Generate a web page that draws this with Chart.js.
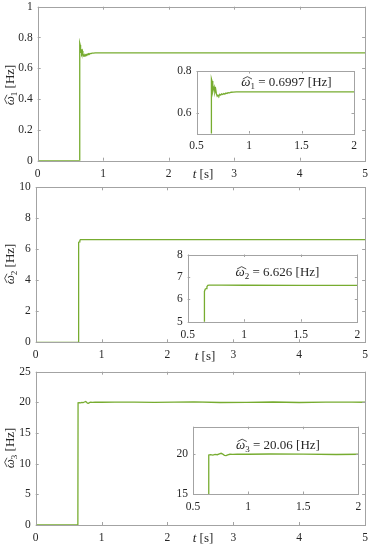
<!DOCTYPE html>
<html><head><meta charset="utf-8">
<script src="https://cdn.jsdelivr.net/npm/chart.js@4/dist/chart.umd.min.js"></script>
<style>
html,body{margin:0;padding:0;background:#fff}
body{width:374px;height:550px;position:relative;overflow:hidden}
canvas{position:absolute}
.pre{position:absolute;left:-500px;top:0;font-family:"Liberation Serif";}
</style></head><body>
<div class="pre">0.5 <i>t ω</i> [Hz]</div>
<canvas id="m1"></canvas><canvas id="i1"></canvas>
<canvas id="m2"></canvas><canvas id="i2"></canvas>
<canvas id="m3"></canvas><canvas id="i3"></canvas>
<script>
// ---- data ----
const t1 = [0, 0.640, 0.642, 0.648, 0.655, 0.662, 0.668, 0.675, 0.683, 0.690, 0.697, 0.705, 0.713, 0.722, 0.731, 0.740, 0.750, 0.760, 0.770, 0.780, 0.790, 0.800, 0.815, 0.830, 0.850, 0.880, 0.950, 1.2, 1.6, 2.0, 2.5, 3.0, 3.5, 4.0, 4.5, 5.0];
const w1 = [0, 0, 0.763, 0.752, 0.700, 0.715, 0.724, 0.697, 0.712, 0.690, 0.679, 0.684, 0.680, 0.688, 0.684, 0.690, 0.687, 0.692, 0.689, 0.694, 0.692, 0.696, 0.695, 0.698, 0.699, 0.700, 0.700, 0.700, 0.6998, 0.6997, 0.6997, 0.6997, 0.6997, 0.6997, 0.6997, 0.6997];
const t2 = [0, 0.645, 0.648, 0.655, 0.663, 0.670, 0.678, 0.690, 0.72, 0.8, 1.0, 1.5, 2.0, 3.0, 4.0, 5.0];
const w2 = [0, 0, 6.35, 6.45, 6.48, 6.56, 6.62, 6.63, 6.63, 6.63, 6.627, 6.626, 6.626, 6.626, 6.626, 6.626];
const t3 = [0, 0.640, 0.643, 0.660, 0.680, 0.700, 0.720, 0.740, 0.755, 0.770, 0.785, 0.800, 0.815, 0.835, 0.86, 0.9, 1.0, 1.2, 1.5, 1.8, 2.1, 2.4, 2.8, 3.2, 3.6, 4.0, 4.4, 4.8, 5.0];
const w3 = [0, 0, 19.92, 19.96, 19.92, 20.00, 19.96, 20.06, 20.14, 20.04, 19.88, 19.84, 19.95, 20.02, 20.00, 20.03, 20.02, 20.05, 20.04, 19.99, 20.03, 20.07, 19.98, 20.01, 20.06, 19.98, 20.03, 20.05, 20.02];

const mainXTicks = [0, 1, 2, 3, 4, 5];
const insetXTicks = [0.5, 1, 1.5, 2];
const y1Ticks = [0, 0.2, 0.4, 0.6, 0.8, 1];
const y2Ticks = [0, 2, 4, 6, 8, 10];
const y3Ticks = [0, 5, 10, 15, 20, 25];
const in1YTicks = [0.6, 0.8];
const in2YTicks = [5, 6, 7, 8];
const in3YTicks = [15, 20];
const estimates = ['0.6997', '6.626', '20.06'];
const subs = ['1', '2', '3'];

// ---- drawing helpers ----
const FAM = '"Liberation Serif", serif';
Chart.defaults.font.family = FAM;
const INK = '#262626', FRAME = '#a3a3a3', GREEN = '#77AC30';

function fontFor(kind, size) {
  if (kind === 'h' || kind === 'i') return 'italic ' + size + 'px ' + FAM;
  if (kind === 's') return Math.round(size * 0.72) + 'px ' + FAM;
  return size + 'px ' + FAM;
}
function rich(ctx, parts, x, y, size, rot) {
  ctx.save();
  ctx.translate(x, y);
  if (rot) ctx.rotate(-Math.PI / 2);
  let w = 0;
  parts.forEach(p => { ctx.font = fontFor(p[1], size); w += ctx.measureText(p[0]).width; });
  let cx = -w / 2;
  const base = size * 0.33;
  ctx.fillStyle = INK; ctx.strokeStyle = INK; ctx.textBaseline = 'alphabetic';
  parts.forEach(p => {
    ctx.font = fontFor(p[1], size);
    const dy = p[1] === 's' ? size * 0.22 : 0;
    ctx.fillText(p[0], cx, base + dy);
    const pw = ctx.measureText(p[0]).width;
    if (p[1] === 'h') {
      ctx.beginPath(); ctx.lineWidth = 0.8;
      ctx.moveTo(cx + pw * 0.05 + 1, base - size * 0.56);
      ctx.lineTo(cx + pw * 0.55 + 1, base - size * 0.74);
      ctx.lineTo(cx + pw * 1.05 + 1, base - size * 0.56);
      ctx.stroke();
    }
    cx += pw;
  });
  ctx.restore();
}

const framePlugin = {
  id: 'frame',
  beforeDatasetsDraw(chart, args, o) {
    if (o.bg) {
      const a = chart.chartArea, ctx = chart.ctx;
      ctx.save(); ctx.fillStyle = '#fff'; ctx.fillRect(a.left, a.top, a.width, a.height); ctx.restore();
    }
  },
  afterDatasetsDraw(chart, args, o) {
    const a = chart.chartArea, ctx = chart.ctx, x = chart.scales.x, y = chart.scales.y;
    const tl = o.tickLen || 3;
    ctx.save();
    ctx.strokeStyle = FRAME; ctx.lineWidth = 1;
    ctx.beginPath();
    x.ticks.forEach(t => {
      const px = Math.round(x.getPixelForValue(t.value)) + 0.5;
      ctx.moveTo(px, a.bottom); ctx.lineTo(px, a.bottom - tl);
      ctx.moveTo(px, a.top); ctx.lineTo(px, a.top + tl);
    });
    y.ticks.forEach(t => {
      const py = Math.round(y.getPixelForValue(t.value)) + 0.5;
      ctx.moveTo(a.left, py); ctx.lineTo(a.left + tl, py);
      ctx.moveTo(a.right, py); ctx.lineTo(a.right - tl, py);
    });
    ctx.stroke();
    ctx.strokeRect(Math.round(a.left) + 0.5, Math.round(a.top) + 0.5, Math.round(a.right) - Math.round(a.left), Math.round(a.bottom) - Math.round(a.top));
    ctx.restore();
    (o.texts || []).forEach(tx => rich(ctx, tx.parts, tx.x - o.ox, tx.y - o.oy, tx.size, tx.rot));
  }
};

function make(id, area, margins, t, w, xr, yr, xt, yt, texts, inset) {
  const [L, T, R, B] = area;
  const [ml, mt, mr, mb] = margins;
  const cx = Math.floor(L - ml), cy = Math.floor(T - mt);
  const cw = Math.ceil(R + mr) - cx, ch = Math.ceil(B + mb) - cy;
  const cv = document.getElementById(id);
  cv.width = cw; cv.height = ch;
  cv.style.left = cx + 'px'; cv.style.top = cy + 'px';
  const padT = T - cy, padR = cx + cw - R, yW = L - cx, xH = cy + ch - B;
  const tickCommon = { color: INK, font: { size: 11.5, family: FAM }, callback: v => String(v) };
  return new Chart(cv, {
    type: 'line',
    data: { datasets: [{ data: t.map((tv, i) => ({ x: tv, y: w[i] })), borderColor: GREEN, borderWidth: 1.3, pointRadius: 0, tension: 0, fill: false }] },
    options: {
      responsive: false, animation: false, events: [],
      layout: { padding: { left: 0, top: padT, right: padR, bottom: 0 } },
      plugins: { legend: { display: false }, tooltip: { enabled: false },
        frame: { bg: inset, tickLen: inset ? 2.5 : 3, texts: texts, ox: cx, oy: cy } },
      scales: {
        x: { type: 'linear', min: xr[0], max: xr[1],
          afterBuildTicks: s => { s.ticks = xt.map(v => ({ value: v })); },
          afterFit: s => { s.height = xH; },
          grid: { display: false, drawTicks: false }, border: { display: false },
          ticks: Object.assign({ padding: 6, maxRotation: 0, autoSkip: false }, tickCommon) },
        y: { type: 'linear', min: yr[0], max: yr[1],
          afterBuildTicks: s => { s.ticks = yt.map(v => ({ value: v })); },
          afterFit: s => { s.width = yW; },
          grid: { display: false, drawTicks: false }, border: { display: false },
          ticks: Object.assign({ padding: 5, autoSkip: false }, tickCommon) }
      }
    },
    plugins: [framePlugin]
  });
}

function yTitle(i, cy) { return { parts: [['ω', 'h'], [subs[i], 's'], [' [Hz]', 'r']], x: 10, y: cy, size: 13, rot: true }; }
function tLabel(x, y) { return { parts: [['t', 'i'], [' [s]', 'r']], x: x, y: y, size: 13, rot: false }; }
function inTitle(i, x, y) { return { parts: [['ω', 'h'], [subs[i], 's'], [' = ' + estimates[i] + ' [Hz]', 'r']], x: x, y: y, size: 13, rot: false }; }

const mainM = [40, 20, 6, 26];
const inM = [40, 15, 12, 25];

function build() {
  make('m1', [37.7, 6.7, 367.7, 160.7], mainM, t1, w1, [0, 5], [0, 1], mainXTicks, y1Ticks,
    [yTitle(0, 85), tLabel(203, 174)], false);
  make('i1', [196.5, 71, 354, 133.5], inM, t1, w1, [0.5, 2], [0.5, 0.8], insetXTicks, in1YTicks,
    [inTitle(0, 286.5, 82)], true);
  make('m2', [35.7, 187.3, 367.7, 342.3], mainM, t2, w2, [0, 5], [0, 10], mainXTicks, y2Ticks,
    [yTitle(1, 264), tLabel(205, 356)], false);
  make('i2', [187.7, 254.5, 357.3, 321.7], inM, t2, w2, [0.5, 2], [5, 8], insetXTicks, in2YTicks,
    [inTitle(1, 277.5, 272)], true);
  make('m3', [35.7, 371.7, 367.7, 525], mainM, t3, w3, [0, 5], [0, 25], mainXTicks, y3Ticks,
    [yTitle(2, 448), tLabel(203, 538)], false);
  make('i3', [193, 426.7, 358.3, 494], inM, t3, w3, [0.5, 2], [15, 23.5], insetXTicks, in3YTicks,
    [inTitle(2, 278, 444.5)], true);
}
if (document.fonts && document.fonts.load) {
  Promise.all([
    document.fonts.load('12px "Liberation Serif"'),
    document.fonts.load('italic 12px "Liberation Serif"')
  ]).then(build, build);
} else { build(); }
</script>
</body></html>
